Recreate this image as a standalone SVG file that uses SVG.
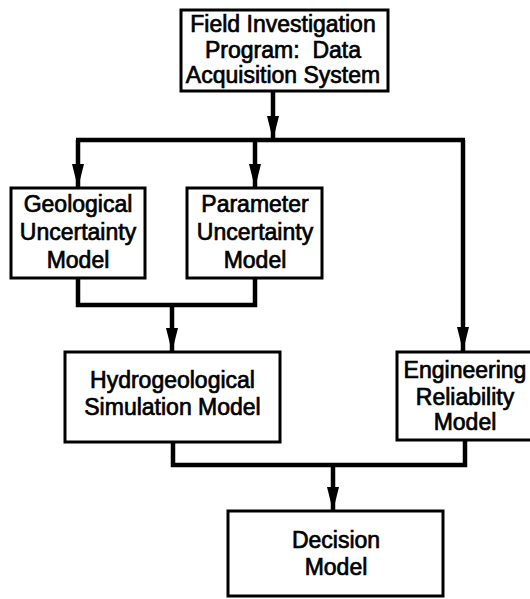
<svg xmlns="http://www.w3.org/2000/svg" width="530" height="599" viewBox="0 0 530 599">
<style>
.box{fill:#fff;stroke:#000;stroke-width:3}
.lbl{font-family:"Liberation Sans",Arial,sans-serif;font-size:23px;fill:#000;stroke:#000;stroke-width:0.7;text-anchor:middle;white-space:pre}
.wire{fill:none;stroke:#000;stroke-width:4.5}
</style>
<defs>
<marker id="ah" markerUnits="userSpaceOnUse" viewBox="0 0 24 12" refX="24" refY="6" markerWidth="24" markerHeight="12" orient="auto">
<path d="M0,0 L24,6 L0,12 z" fill="#000"/>
</marker>
</defs>
<rect width="530" height="599" fill="#fff"/>
<g id="connectors">
<line class="wire" x1="273" y1="91" x2="273" y2="140" marker-end="url(#ah)"/>
<line class="wire" x1="76" y1="140" x2="465" y2="140"/>
<line class="wire" x1="78" y1="140" x2="78" y2="188" marker-end="url(#ah)"/>
<line class="wire" x1="255" y1="140" x2="255" y2="188" marker-end="url(#ah)"/>
<line class="wire" x1="463" y1="140" x2="463" y2="351" marker-end="url(#ah)"/>
<polyline class="wire" points="78,278 78,305 255,305 255,278"/>
<line class="wire" x1="172" y1="305" x2="172" y2="352" marker-end="url(#ah)"/>
<polyline class="wire" points="173,442 173,465 465,465 465,440"/>
<line class="wire" x1="333" y1="465" x2="333" y2="511" marker-end="url(#ah)"/>
</g>
<g id="field">
<rect class="box" x="181" y="10" width="207" height="81"/>
<text class="lbl" x="283" y="32">Field Investigation</text>
<text class="lbl" x="283" y="58" xml:space="preserve">Program:  Data</text>
<text class="lbl" x="283" y="83">Acquisition System</text>
</g>
<g id="geological">
<rect class="box" x="11" y="188" width="134" height="90"/>
<text class="lbl" x="78" y="212">Geological</text>
<text class="lbl" x="78" y="240">Uncertainty</text>
<text class="lbl" x="78" y="268">Model</text>
</g>
<g id="parameter">
<rect class="box" x="187" y="188" width="135" height="90"/>
<text class="lbl" x="255" y="212">Parameter</text>
<text class="lbl" x="255" y="240">Uncertainty</text>
<text class="lbl" x="255" y="268">Model</text>
</g>
<g id="hydro">
<rect class="box" x="65" y="352" width="215" height="90"/>
<text class="lbl" x="172.5" y="388">Hydrogeological</text>
<text class="lbl" x="172.5" y="415">Simulation Model</text>
</g>
<g id="engineering">
<rect class="box" x="397" y="352" width="136" height="88"/>
<text class="lbl" x="465" y="378">Engineering</text>
<text class="lbl" x="465" y="405">Reliability</text>
<text class="lbl" x="465" y="430">Model</text>
</g>
<g id="decision">
<rect class="box" x="228" y="511" width="215" height="85"/>
<text class="lbl" x="336" y="548">Decision</text>
<text class="lbl" x="336" y="575">Model</text>
</g>
</svg>
